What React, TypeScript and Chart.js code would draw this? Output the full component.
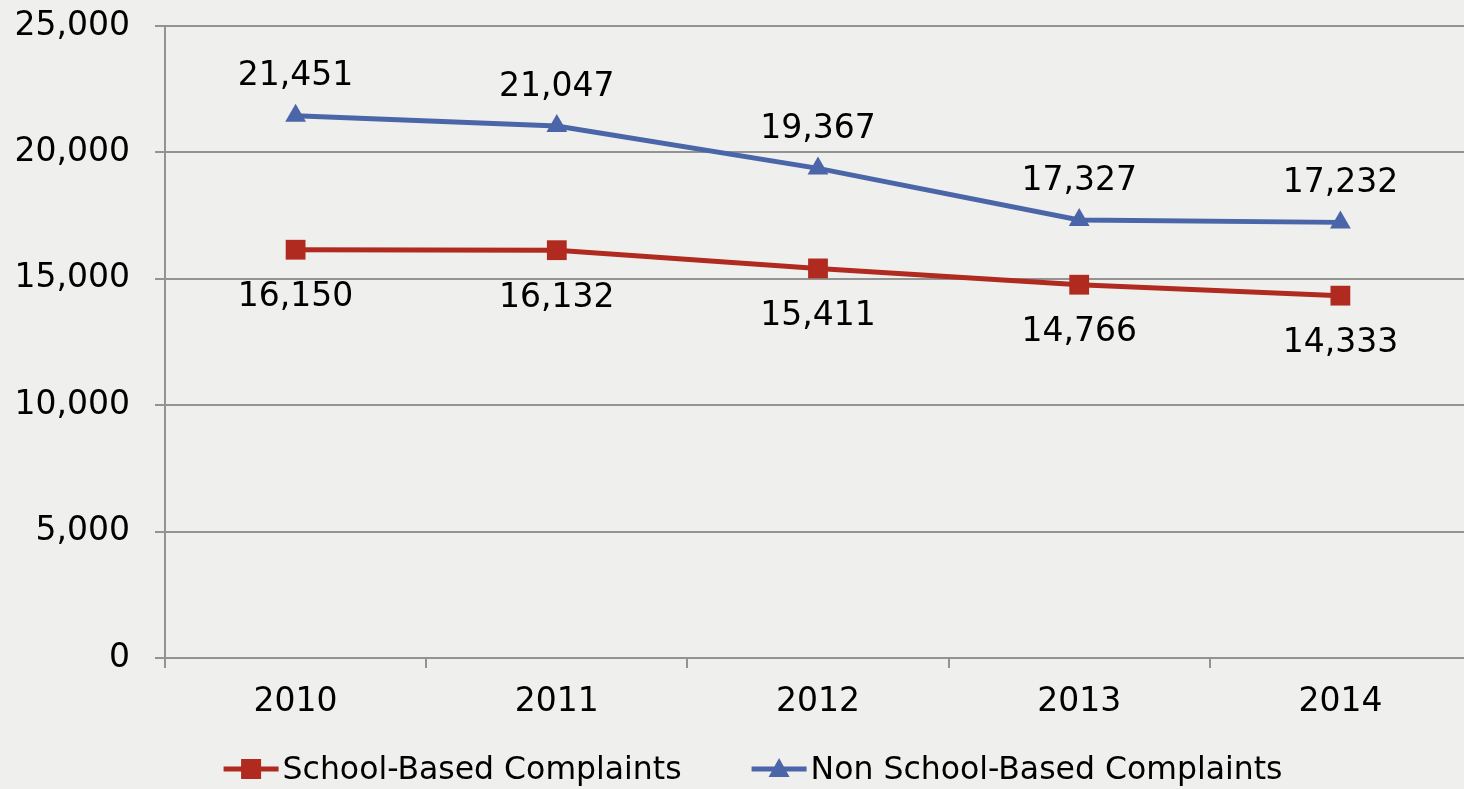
import React, { useEffect, useRef } from "react";
import { Chart, registerables } from "chart.js";

Chart.register(...registerables);

const categories = ["2010", "2011", "2012", "2013", "2014"];
const schoolBased = [16150, 16132, 15411, 14766, 14333];
const nonSchoolBased = [21451, 21047, 19367, 17327, 17232];
const seriesNames = ["School-Based Complaints", "Non School-Based Complaints"];
const yTicks = { min: 0, max: 25000, step: 5000 };

const RED = "#b02a1f";
const BLUE = "#4a65a8";
const GRID = "#939393";
const FONT = "'DejaVu Sans', sans-serif";

const fmt = (v: number) => v.toLocaleString("en-US");

const dataLabelPlugin = {
  id: "dataLabels",
  afterDatasetsDraw(chart: any) {
    const ctx = chart.ctx;
    ctx.save();
    ctx.font = `33px ${FONT}`;
    ctx.fillStyle = "#000";
    ctx.textAlign = "center";
    ctx.textBaseline = "middle";
    chart.data.datasets.forEach((ds: any, i: number) => {
      const meta = chart.getDatasetMeta(i);
      meta.data.forEach((pt: any, j: number) => {
        const dy = i === 0 ? 48 : -39;
        ctx.fillText(fmt(ds.data[j]), pt.x, pt.y + dy);
      });
    });
    ctx.restore();
  },
};

const legendPlugin = {
  id: "customLegend",
  afterDraw(chart: any) {
    const ctx = chart.ctx;
    ctx.save();
    ctx.font = `31.5px ${FONT}`;
    const lineLen = 55;
    const gapText = 4;
    const gapItem = 70;
    const items = chart.data.datasets.map((ds: any) => ({
      ds,
      w: ctx.measureText(ds.label).width,
    }));
    const total =
      items.reduce((a: number, it: any) => a + lineLen + gapText + it.w, 0) +
      gapItem * (items.length - 1);
    let x = 753 - total / 2;
    const y = 769;
    items.forEach((it: any) => {
      const ds = it.ds;
      ctx.strokeStyle = ds.borderColor;
      ctx.lineWidth = 5;
      ctx.beginPath();
      ctx.moveTo(x, y);
      ctx.lineTo(x + lineLen, y);
      ctx.stroke();
      const cx = x + lineLen / 2;
      ctx.fillStyle = ds.pointBackgroundColor;
      ctx.beginPath();
      if (ds.pointStyle === "rect") {
        ctx.rect(cx - 10, y - 10, 20, 20);
      } else {
        ctx.moveTo(cx, y - 11);
        ctx.lineTo(cx + 10.5, y + 8);
        ctx.lineTo(cx - 10.5, y + 8);
        ctx.closePath();
      }
      ctx.fill();
      ctx.fillStyle = "#000";
      ctx.textAlign = "left";
      ctx.textBaseline = "middle";
      ctx.fillText(ds.label, x + lineLen + gapText, y + 2);
      x += lineLen + gapText + it.w + gapItem;
    });
    ctx.restore();
  },
};

export default function App() {
  const ref = useRef<HTMLCanvasElement | null>(null);

  useEffect(() => {
    if (!ref.current) return;
    const chart = new Chart(ref.current, {
      type: "line",
      data: {
        labels: categories,
        datasets: [
          {
            label: seriesNames[0],
            data: schoolBased,
            borderColor: RED,
            backgroundColor: RED,
            pointBackgroundColor: RED,
            pointBorderColor: RED,
            pointStyle: "rect",
            pointRadius: 14,
            pointBorderWidth: 0,
            borderWidth: 5,
            tension: 0,
          },
          {
            label: seriesNames[1],
            data: nonSchoolBased,
            borderColor: BLUE,
            backgroundColor: BLUE,
            pointBackgroundColor: BLUE,
            pointBorderColor: BLUE,
            pointStyle: "triangle",
            pointRadius: 12,
            pointBorderWidth: 0,
            borderWidth: 5,
            tension: 0,
          },
        ],
      },
      options: {
        animation: false,
        responsive: true,
        maintainAspectRatio: false,
        layout: { autoPadding: false, padding: { top: 26, left: 0, right: 0, bottom: 0 } },
        plugins: {
          legend: { display: false },
          tooltip: { enabled: false },
        },
        scales: {
          x: {
            offset: true,
            grid: {
              offset: true,
              drawOnChartArea: false,
              drawTicks: true,
              tickLength: 10,
              color: GRID,
              lineWidth: 2,
            },
            border: { display: true, color: GRID, width: 2 },
            ticks: {
              color: "#000",
              font: { family: FONT, size: 33 },
              padding: 15,
              maxRotation: 0,
            },
            afterFit: (s: any) => {
              s.height = 131;
              s.paddingLeft = 0;
              s.paddingRight = 0;
            },
          },
          y: {
            min: yTicks.min,
            max: yTicks.max,
            grid: { color: GRID, lineWidth: 2, tickLength: 10 },
            border: { display: true, color: GRID, width: 2 },
            ticks: {
              stepSize: yTicks.step,
              color: "#000",
              font: { family: FONT, size: 33 },
              padding: 25,
              callback: (v: any) => fmt(Number(v)),
            },
            afterFit: (s: any) => {
              s.width = 165;
              s.paddingTop = 0;
              s.paddingBottom = 0;
            },
          },
        },
      },
      plugins: [dataLabelPlugin, legendPlugin],
    });
    return () => chart.destroy();
  }, []);

  return (
    <div
      style={{
        position: "fixed",
        left: 0,
        top: 0,
        width: 1464,
        height: 789,
        overflow: "hidden",
        background: "#efefed",
      }}
    >
      <div style={{ position: "relative", width: 1471, height: 789 }}>
        <canvas ref={ref} />
      </div>
    </div>
  );
}
